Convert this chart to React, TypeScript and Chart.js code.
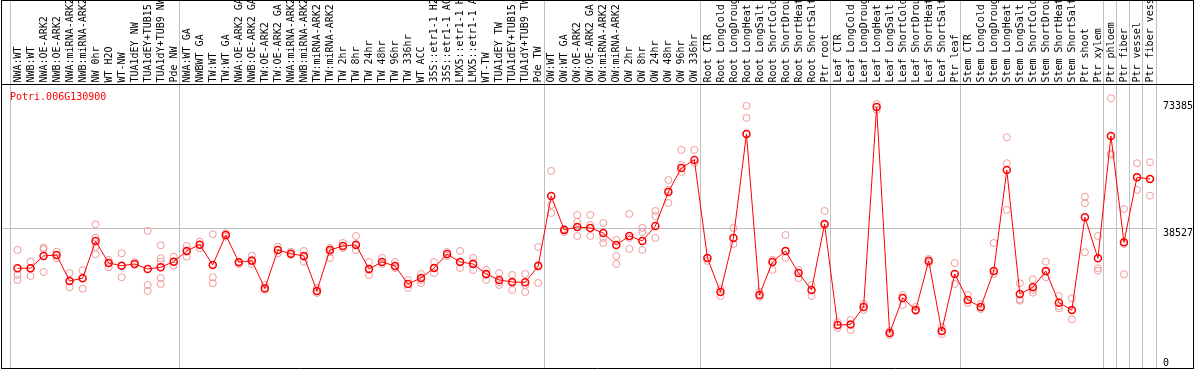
import React, { useEffect, useRef } from 'react';
import { Chart, registerables } from 'chart.js';

Chart.register(...registerables);

const geneTitle = 'Potri.006G130900';

const categories = [
  'NWA:WT', 'NWB:WT', 'NWA:OE-ARK2', 'NWB:OE-ARK2', 'NWA:miRNA-ARK2', 'NWB:miRNA-ARK2',
  'NW 0hr', 'WT H2O', 'WT-NW', 'TUA1dEY NW', 'TUA1dEY+TUB15 NW', 'TUA1dY+TUB9 NW', 'Pde NW',
  'NWA:WT GA', 'NWBWT GA', 'TW:WT', 'TW:WT GA', 'NWA:OE-ARK2 GA', 'NWB:OE-ARK2 GA',
  'TW:OE-ARK2', 'TW:OE-ARK2 GA', 'NWA:miRNA-ARK2 GA', 'NWB:miRNA-ARK2 GA', 'TW:miRNA-ARK2',
  'TW:miRNA-ARK2 GA', 'TW 2hr', 'TW 8hr', 'TW 24hr', 'TW 48hr', 'TW 96hr', 'TW 336hr',
  'WT ACC', '35S::etr1-1 H2O', '35S::etr1-1 ACC', 'LMX5::etr1-1 H2O', 'LMX5::etr1-1 ACC',
  'WT-TW', 'TUA1dEY TW', 'TUA1dEY+TUB15 TW', 'TUA1dY+TUB9 TW', 'Pde TW',
  'OW:WT', 'OW:WT GA', 'OW:OE-ARK2', 'OW:OE-ARK2 GA', 'OW:miRNA-ARK2', 'OW:miRNA-ARK2 GA',
  'OW 2hr', 'OW 8hr', 'OW 24hr', 'OW 48hr', 'OW 96hr', 'OW 336hr',
  'Root CTR', 'Root LongCold', 'Root LongDrought', 'Root LongHeat', 'Root LongSalt',
  'Root ShortCold', 'Root ShortDrought', 'Root ShortHeat', 'Root ShortSalt', 'Ptr root',
  'Leaf CTR', 'Leaf LongCold', 'Leaf LongDrought', 'Leaf LongHeat', 'Leaf LongSalt',
  'Leaf ShortCold', 'Leaf ShortDrought', 'Leaf ShortHeat', 'Leaf ShortSalt', 'Ptr leaf',
  'Stem CTR', 'Stem LongCold', 'Stem LongDrought', 'Stem LongHeat', 'Stem LongSalt',
  'Stem ShortCold', 'Stem ShortDrought', 'Stem ShortHeat', 'Stem ShortSalt', 'Ptr shoot',
  'Ptr xylem', 'Ptr phloem', 'Ptr fiber', 'Ptr vessel', 'Ptr fiber vessel',
];

const meanValues = [
  27575, 27600, 30960, 31235, 24080, 24823, 35088, 29034, 28291, 28758, 27382, 27850, 29391,
  32336, 34070, 28483, 36739, 29226, 29666, 22071, 32611, 31593, 30960, 21328, 32611,
  33712, 33987, 27382, 29309, 28208, 23254, 24906, 27658, 31510, 29309, 28758, 26006,
  24355, 23805, 23700, 28208,
  47472, 38115, 38941, 38666, 37290, 33987, 36464, 35088, 39216, 48573, 55178, 57379,
  30410, 21053, 35914, 64534, 20227, 29309, 32336, 26282, 21603, 39766,
  11971, 12100, 16925, 71965, 9770, 19402, 16099, 29584, 10320, 26006,
  18851, 16925, 26832, 54627, 20502, 22346, 26832, 18108, 16099, 41610,
  30327, 63984, 34730, 52618, 52150,
];

const replicateValues = [
  [32611, 25731, 24355], [29391, 27575, 25456], [33244, 32804, 26557], [32143, 31235, 30327],
  [26282, 24080, 22346], [27024, 24823, 21961], [39684, 35996, 33519, 31428], [29859, 28951, 27850],
  [31703, 28291, 25098], [29309, 28621], [37840, 22979, 21328], [33904, 30327, 29391, 24906, 23254],
  [30767, 29391, 28291], [33712, 32143, 30767], [34895, 33987, 33079], [36932, 28483, 25098, 23447],
  [37207, 36271], [29391, 28758], [31043, 29859, 28758], [22979, 21603], [33519, 31703],
  [32143, 31235], [32336, 30685, 29309], [22154, 20778], [33162, 32061, 30410], [34538, 33162],
  [36464, 34262, 32611], [29309, 27108, 25731], [30410, 28758], [29309, 27658], [24355, 22154],
  [26006, 24355, 23530], [29309, 27658, 26282], [32061, 30960], [32336, 29309, 27658],
  [30410, 29034, 27108], [27108, 25731, 24355], [26282, 23805, 22979], [25731, 23530, 21603],
  [26006, 22979, 21053], [33437, 28483, 23530],
  [54352, 44996, 42794], [38391, 37565], [42243, 40317, 36464], [42243, 39491, 36464],
  [40041, 35914, 34538], [35363, 30960, 28758], [42519, 35914, 32886], [38666, 37565, 32611],
  [43344, 41968, 35914], [51876, 49124, 45546], [60132, 56004, 54077], [60132, 56554],
  [30410, 29584], [21878, 19952], [38666, 34262], [72244, 68941, 64534], [21053, 19677],
  [29859, 27108], [36739, 32336, 30410], [27108, 24906], [22979, 19952], [43344, 39491],
  [12797, 11146], [13347, 10595], [17750, 16099], [72794, 71143], [10320, 9219],
  [20227, 17475], [16925, 15824], [30135, 29034], [11422, 9495], [29034, 23254],
  [20227, 18026], [17750, 16374], [34538, 26006], [63626, 56471, 43619], [23447, 19044, 18658],
  [24548, 21603, 20860], [29391, 26639, 25098], [19952, 17200, 16567], [19319, 16099, 13540],
  [47279, 45463, 31978], [36464, 27575, 26915], [74359, 59223, 58755], [43894, 34262, 25924],
  [56471, 52700, 49124], [56746, 52150, 47555],
];

const yTickValues = [0, 38527, 73385];
const yGridValue = 38527;
const yAxisMax = 78000;
const groupBoundaries = [0, 13, 41, 53, 63, 73, 84, 85, 86, 87, 88];

const MONO = '"DejaVu Sans Mono", "Liberation Mono", monospace';

const decorPlugin = {
  id: 'decor',
  beforeDatasetsDraw(chart: any) {
    const { ctx, chartArea, scales } = chart;
    const xs = scales.x;
    const ys = scales.y;
    const half = (xs.getPixelForValue(1) - xs.getPixelForValue(0)) / 2;
    ctx.save();
    ctx.strokeStyle = '#c0c0c0';
    ctx.lineWidth = 1;
    for (const b of groupBoundaries) {
      const px = Math.round(xs.getPixelForValue(b) - half) - 0.5;
      ctx.beginPath();
      ctx.moveTo(px, 0);
      ctx.lineTo(px, chartArea.bottom);
      ctx.stroke();
    }
    const gy = Math.round(ys.getPixelForValue(yGridValue)) + 0.5;
    ctx.beginPath();
    ctx.moveTo(1, gy);
    ctx.lineTo(chartArea.right, gy);
    ctx.stroke();
    ctx.restore();
  },
  afterDraw(chart: any) {
    const { ctx, chartArea, width } = chart;
    ctx.save();
    ctx.strokeStyle = '#000';
    ctx.lineWidth = 1;
    ctx.beginPath();
    ctx.moveTo(1.5, 0);
    ctx.lineTo(1.5, 369);
    ctx.moveTo(width - 0.5, 0);
    ctx.lineTo(width - 0.5, 369);
    ctx.moveTo(1, 0.5);
    ctx.lineTo(width, 0.5);
    ctx.moveTo(1, chartArea.top - 0.5);
    ctx.lineTo(width, chartArea.top - 0.5);
    ctx.moveTo(1, chartArea.bottom);
    ctx.lineTo(width, chartArea.bottom);
    ctx.stroke();
    ctx.fillStyle = '#ff0000';
    ctx.font = '10px ' + MONO;
    ctx.textBaseline = 'middle';
    ctx.textAlign = 'left';
    ctx.fillText(geneTitle, 10, chartArea.top + 12);
    ctx.restore();
  },
};

export default function App() {
  const ref = useRef<HTMLCanvasElement>(null);
  useEffect(() => {
    document.body.style.margin = '0';
    const canvas = ref.current;
    if (!canvas) return;
    const repPoints: { x: string; y: number }[] = [];
    replicateValues.forEach((reps, i) => {
      reps.forEach((v) => repPoints.push({ x: categories[i], y: v }));
    });
    const chart = new Chart(canvas, {
      type: 'line',
      data: {
        labels: categories,
        datasets: [
          {
            label: 'mean',
            data: meanValues,
            borderColor: '#ff0000',
            borderWidth: 1,
            pointRadius: 3.5,
            pointBorderWidth: 1.5,
            pointBorderColor: '#ff0000',
            pointBackgroundColor: 'rgba(0,0,0,0)',
            tension: 0,
          },
          {
            label: 'replicates',
            data: repPoints as any,
            showLine: false,
            pointRadius: 3.5,
            pointBorderWidth: 1,
            pointBorderColor: '#f09898',
            pointBackgroundColor: 'rgba(0,0,0,0)',
          },
        ],
      },
      options: {
        responsive: false,
        animation: false,
        devicePixelRatio: 1,
        layout: { autoPadding: false, padding: { left: 11, right: 1, top: 0, bottom: 1.5 } },
        plugins: { legend: { display: false }, tooltip: { enabled: false }, title: { display: false } },
        scales: {
          x: {
            type: 'category',
            position: 'top',
            offset: true,
            grid: { display: false, drawTicks: false, tickLength: 0 },
            border: { display: false },
            ticks: {
              autoSkip: false,
              minRotation: 90,
              maxRotation: 90,
              padding: 2.5,
              labelOffset: 12.5,
              color: '#000',
              font: { family: MONO, size: 10 },
            },
            afterFit: (scale: any) => {
              scale.height = 85;
              scale.paddingLeft = 0;
              scale.paddingRight = 0;
            },
          },
          y: {
            type: 'linear',
            position: 'right',
            min: 0,
            max: yAxisMax,
            grid: { display: false, drawTicks: false, tickLength: 0 },
            border: { display: false },
            afterBuildTicks: (scale: any) => {
              scale.ticks = yTickValues.map((v) => ({ value: v }));
            },
            ticks: {
              padding: 6.5,
              color: '#000',
              font: { family: MONO, size: 10, lineHeight: 1 },
              callback: (value: any) => (value === 0 ? [String(value), ''] : ['', String(value)]),
            },
            afterFit: (scale: any) => {
              scale.width = 36.5;
              scale.paddingTop = 0;
              scale.paddingBottom = 0;
            },
          },
        },
      },
      plugins: [decorPlugin],
    });
    return () => chart.destroy();
  }, []);
  return (
    <div style={{ position: 'absolute', left: 0, top: 0 }}>
      <canvas ref={ref} width={1194} height={370} style={{ display: 'block', width: 1194, height: 370 }} />
    </div>
  );
}
